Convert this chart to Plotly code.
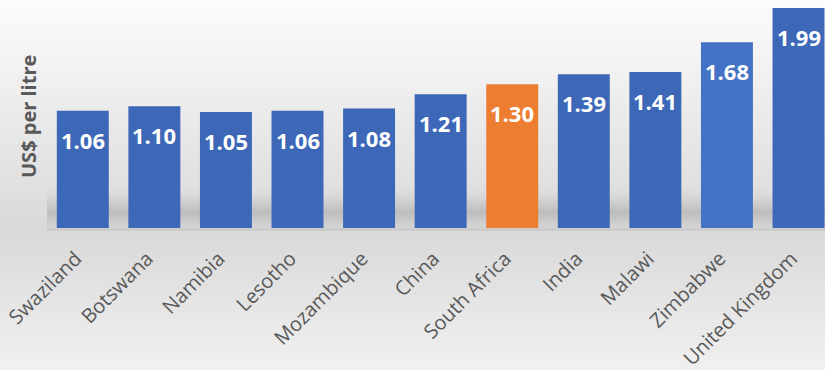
import plotly.graph_objects as go

countries = ["Swaziland", "Botswana", "Namibia", "Lesotho", "Mozambique", "China",
             "South Africa", "India", "Malawi", "Zimbabwe", "United Kingdom"]
prices = [1.06, 1.10, 1.05, 1.06, 1.08, 1.21, 1.30, 1.39, 1.41, 1.68, 1.99]
labels = ["1.06", "1.10", "1.05", "1.06", "1.08", "1.21", "1.30", "1.39", "1.41", "1.68", "1.99"]
y_title = "US$ per litre"

BLUE = "#3D67B7"
BLUE_LIGHT = "#4472C4"
ORANGE = "#ED7D31"
colors = [ORANGE if c == "South Africa" else (BLUE_LIGHT if c == "Zimbabwe" else BLUE) for c in countries]

W, H = 825, 370
ML, MR, MT, MB = 47, 0, 0, 142
PH = H - MT - MB  # plot height in px
PW = W - ML - MR


def py(ypx):
    """convert pixel y (from top of figure) to paper y"""
    return (H - MB - ypx) / PH


shapes = []
# background vertical gradient (decoration)
step = 3
for y0 in range(0, H, step):
    t = y0 + step / 2
    if t <= 232:
        g = 252 - (252 - 217) * (t / 232)
    else:
        g = 217 + (240 - 217) * ((t - 232) / (H - 232))
    g = int(round(g))
    shapes.append(dict(type="rect", xref="paper", yref="paper", x0=-0.1, x1=1.1,
                       y0=py(y0 + step), y1=py(y0), fillcolor=f"rgb({g},{g},{g})",
                       line=dict(width=0), layer="below"))
# soft shadow band at the base of the bars
for y0 in range(188, 228, 2):
    t = y0 + 1
    if t < 212:
        a = 0.14 * ((t - 188) / 24) ** 1.5
    else:
        a = 0.14 * (1 - (t - 212) / 18) ** 1.2 + 0.01
    shapes.append(dict(type="rect", xref="paper", yref="paper", x0=0, x1=1,
                       y0=py(y0 + 2), y1=py(y0), fillcolor=f"rgba(0,0,0,{a:.3f})",
                       line=dict(width=0), layer="below"))
# base line band
shapes.append(dict(type="rect", xref="paper", yref="paper", x0=0, x1=1,
                   y0=py(231), y1=py(228), fillcolor="rgba(0,0,0,0.05)",
                   line=dict(width=0), layer="below"))

fig = go.Figure()
fig.add_trace(go.Bar(x=countries, y=prices, marker=dict(color=colors, line=dict(width=0)),
                     width=0.726, hoverinfo="x+y"))

annotations = []
for c, v, lab in zip(countries, prices, labels):
    annotations.append(dict(x=c, y=v, xref="x", yref="y", text=lab, showarrow=False,
                            yshift=-29, yanchor="middle",
                            font=dict(family="Open Sans", size=22, color="white", weight="bold")))
# y-axis title
annotations.append(dict(x=-18 / PW, y=py(117), xref="paper", yref="paper", text=y_title,
                        showarrow=False, textangle=-90, xanchor="center", yanchor="middle",
                        font=dict(family="Open Sans", size=20, color="#595959", weight="bold")))

fig.update_layout(
    width=W, height=H,
    margin=dict(l=ML, r=MR, t=MT, b=MB, pad=0, autoexpand=False),
    paper_bgcolor="#f0f0f0",
    plot_bgcolor="rgba(0,0,0,0)",
    showlegend=False,
    shapes=shapes,
    annotations=annotations,
    xaxis=dict(range=[-0.5, 10.37], tickangle=-45, showgrid=False, zeroline=False,
               showline=False, ticks="", ticklabelstandoff=14, ticklabelshift=-7,
               automargin=False,
               tickfont=dict(family="Open Sans", size=20, color="#595959")),
    yaxis=dict(range=[0, 2.062], showticklabels=False, showgrid=False, zeroline=False,
               showline=False, ticks="", automargin=False),
)

fig.write_html("out.html", config={"displayModeBar": False},
               post_script="document.body.style.margin='0px';")
